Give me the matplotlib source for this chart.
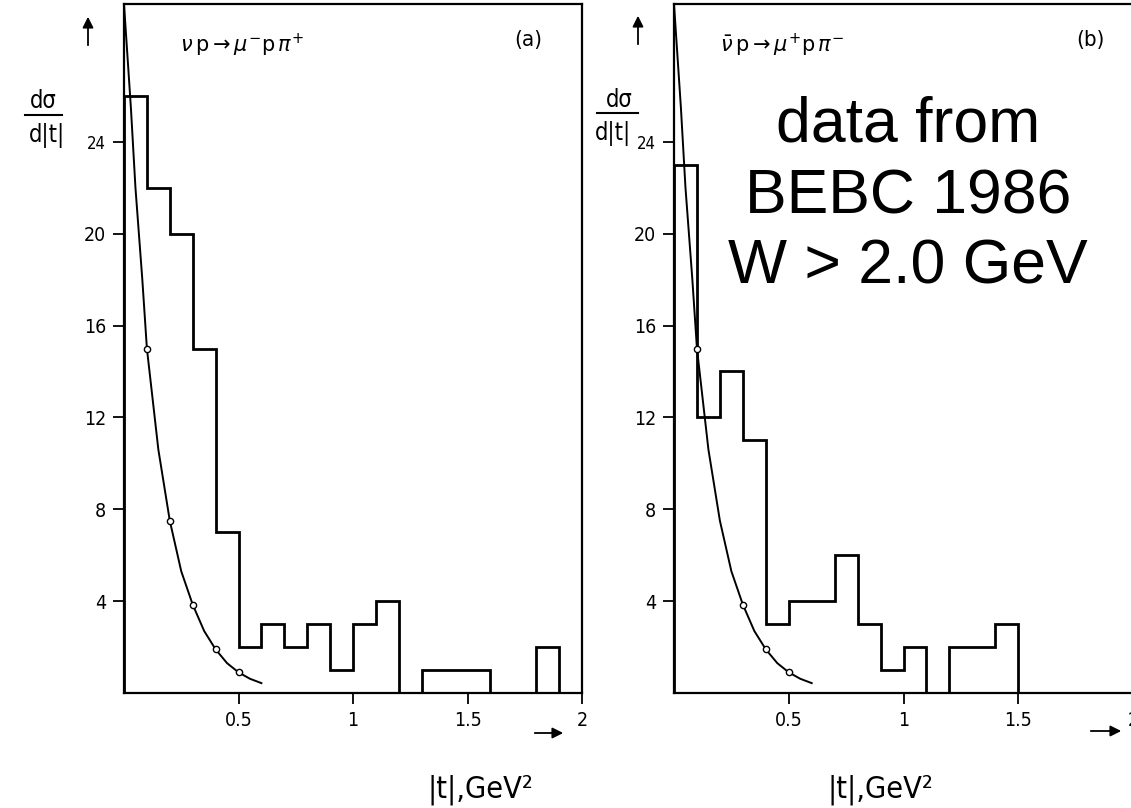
import matplotlib
matplotlib.use("Agg")
import matplotlib.pyplot as plt
from matplotlib.lines import Line2D

# ---------------- data ----------------
bin_edges = [0.0, 0.1, 0.2, 0.3, 0.4, 0.5, 0.6, 0.7, 0.8, 0.9, 1.0,
             1.1, 1.2, 1.3, 1.4, 1.5, 1.6, 1.7, 1.8, 1.9, 2.0]
hist_a = [26, 22, 20, 15, 7, 2, 3, 2, 3, 1, 3, 4, 0, 1, 1, 1, 0, 0, 2, 0]
hist_b = [23, 12, 14, 11, 3, 4, 4, 6, 3, 1, 2, 0, 2, 2, 3, 0, 0, 0, 0, 0]

curve_t = [0.0, 0.03, 0.05, 0.08, 0.1, 0.15, 0.2, 0.25, 0.3, 0.35, 0.4, 0.45, 0.5, 0.55, 0.6]
curve_y = [30, 25.5, 22, 18, 15, 10.6, 7.5, 5.3, 3.85, 2.7, 1.9, 1.3, 0.9, 0.62, 0.43]

circ_a_t = [0.1, 0.2, 0.3, 0.4, 0.5]
circ_a_y = [15, 7.5, 3.85, 1.9, 0.9]
circ_b_t = [0.1, 0.3, 0.4, 0.5]
circ_b_y = [15, 3.85, 1.9, 0.9]

yticks = [4, 8, 12, 16, 20, 24]
xticks = [0.5, 1, 1.5, 2]
xticklabels = ["0.5", "1", "1.5", "2"]

title_a = r"$\nu\,\mathrm{p}\rightarrow\mu^{-}\mathrm{p}\,\pi^{+}$"
title_b = r"$\bar{\nu}\,\mathrm{p}\rightarrow\mu^{+}\mathrm{p}\,\pi^{-}$"
tag_a = "(a)"
tag_b = "(b)"
xlabel_text = "|t|,GeV²"
note_lines = ["data from", "BEBC 1986", "W > 2.0 GeV"]

# ---------------- figure ----------------
W, H = 1131, 808
fig = plt.figure(figsize=(W / 100, H / 100), dpi=100)
fig.patch.set_facecolor("white")
plt.rcParams["mathtext.fontset"] = "dejavusans"

TICKFONT = ["DejaVu Sans"]
STRETCH = "condensed"


def fx(x):
    return x / W


def fy(y):
    return 1 - y / H


def make_panel(left, right, hist, ct, cy):
    ax = fig.add_axes([fx(left), fy(693), (right - left) / W, (693 - 4) / H])
    ax.set_xlim(0, 2)
    ax.set_ylim(0, 30)
    ax.stairs(hist, bin_edges, baseline=0, fill=False, color="black", lw=2.0)
    ax.plot(curve_t, curve_y, color="black", lw=1.4, clip_on=False)
    ax.plot(ct, cy, ls="none", marker="o", ms=4.5, mfc="white", mec="black", mew=1.0, zorder=5)
    for s in ax.spines.values():
        s.set_linewidth(1.6)
        s.set_color("black")
    ax.set_yticks(yticks)
    ax.set_yticklabels([str(v) for v in yticks], family=TICKFONT, stretch=STRETCH, fontsize=14)
    ax.set_xticks(xticks)
    ax.set_xticklabels(xticklabels, family=TICKFONT, stretch=STRETCH, fontsize=14)
    ax.tick_params(direction="out", length=8, width=1.3, pad=5, colors="black")
    # smaller 24 label, as in the original
    ax.get_yticklabels()[-1].set_fontsize(12)
    return ax


ax_a = make_panel(124, 582, hist_a, circ_a_t, circ_a_y)
ax_b = make_panel(674, 1133, hist_b, circ_b_t, circ_b_y)

# titles inside panels
fig.text(fx(180), fy(45), title_a, fontsize=15, va="center", ha="left")
fig.text(fx(528), fy(40), tag_a, fontsize=16, va="center", ha="center",
         family=TICKFONT, stretch=STRETCH)
fig.text(fx(720), fy(45), title_b, fontsize=15, va="center", ha="left")
fig.text(fx(1090), fy(40), tag_b, fontsize=16, va="center", ha="center",
         family=TICKFONT, stretch=STRETCH)


# y labels (fractions)
def ylab(xtop, xbot, ytop, ybar, ybot, x0, x1):
    fig.text(fx(xtop), fy(ytop), "dσ", fontsize=17, ha="center", va="center",
             family=TICKFONT, stretch=STRETCH)
    fig.add_artist(Line2D([fx(x0), fx(x1)], [fy(ybar), fy(ybar)], color="black", lw=1.5))
    fig.text(fx(xbot), fy(ybot), "d|t|", fontsize=17, ha="center", va="center",
             family=TICKFONT, stretch=STRETCH)


ylab(43, 47, 101, 115, 136, 25, 62)
ylab(619, 613, 100, 113, 133, 597, 638)

# x labels
fig.text(fx(480), fy(790), xlabel_text, fontsize=22, ha="center", va="center",
         family=TICKFONT, stretch=STRETCH)
fig.text(fx(880), fy(790), xlabel_text, fontsize=22, ha="center", va="center",
         family=TICKFONT, stretch=STRETCH)

# arrows
arrow_kw = dict(arrowstyle="-|>", color="black", lw=1.3, mutation_scale=16)
for (x0, y0, x1, y1) in [(88, 48, 88, 14), (638, 47, 638, 13),
                         (532, 733, 566, 733), (1088, 731, 1124, 731)]:
    fig.add_artist(matplotlib.patches.FancyArrowPatch(
        (fx(x0), fy(y0)), (fx(x1), fy(y1)), transform=fig.transFigure, **arrow_kw))

# big annotation
for txt, yb in zip(note_lines, [142, 213, 283]):
    fig.text(fx(908), fy(yb), txt, fontsize=45, ha="center", va="baseline",
             family=["Liberation Sans", "DejaVu Sans"])

fig.savefig("out.png", dpi=100, facecolor="white")
